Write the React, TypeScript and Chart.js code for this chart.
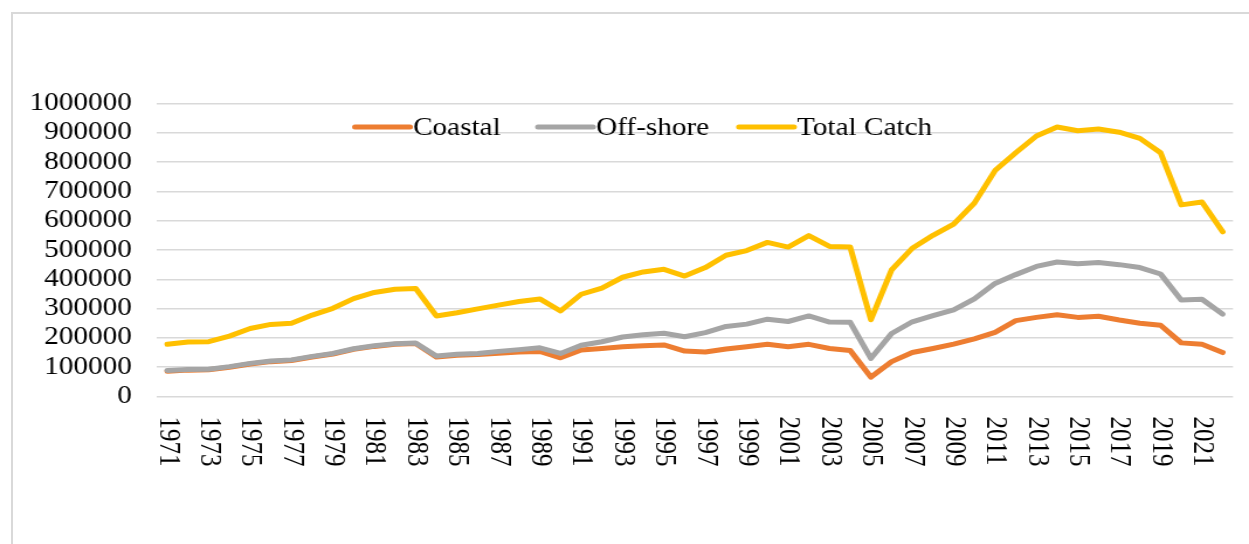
import React, { useEffect, useRef } from "react";
import { Chart, registerables } from "chart.js";

Chart.register(...registerables);

const years: string[] = [
  "1971","1972","1973","1974","1975","1976","1977","1978","1979","1980",
  "1981","1982","1983","1984","1985","1986","1987","1988","1989","1990",
  "1991","1992","1993","1994","1995","1996","1997","1998","1999","2000",
  "2001","2002","2003","2004","2005","2006","2007","2008","2009","2010",
  "2011","2012","2013","2014","2015","2016","2017","2018","2019","2020",
  "2021","2022",
];

const coastal: number[] = [
  86000, 90000, 91000, 100000, 111000, 119000, 123000, 135000, 145000, 161000,
  171000, 178000, 181000, 135000, 141000, 143000, 148000, 152000, 154000, 132000,
  159000, 164000, 170000, 173000, 176000, 155000, 152000, 162000, 170000, 178000,
  170000, 178000, 164000, 157000, 66000, 119000, 150000, 164000, 179000, 197000,
  219000, 259000, 270000, 279000, 270000, 274000, 261000, 250000, 243000, 183000,
  178000, 150000,
];

const offshore: number[] = [
  89000, 92000, 93000, 102000, 113000, 121000, 125000, 137000, 147000, 163000,
  173000, 180000, 183000, 138000, 144000, 147000, 154000, 160000, 166000, 147000,
  175000, 187000, 203000, 211000, 216000, 204000, 218000, 239000, 247000, 264000,
  256000, 275000, 254000, 253000, 130000, 215000, 255000, 276000, 296000, 333000,
  386000, 416000, 444000, 459000, 453000, 457000, 450000, 440000, 418000, 329000,
  332000, 281000,
];

const totalCatch: number[] = [
  178000, 186000, 187000, 206000, 232000, 246000, 250000, 278000, 301000, 334000,
  355000, 366000, 369000, 275000, 286000, 299000, 312000, 324000, 333000, 292000,
  349000, 370000, 407000, 425000, 434000, 411000, 440000, 482000, 498000, 526000,
  510000, 549000, 512000, 510000, 262000, 432000, 506000, 550000, 588000, 660000,
  771000, 832000, 889000, 920000, 907000, 913000, 902000, 881000, 832000, 654000,
  664000, 562000,
];

const seriesNames: string[] = ["Coastal", "Off-shore", "Total Catch"];
const seriesColors: string[] = ["#ED7D31", "#A5A5A5", "#FFC000"];

const W = 1249;
const H = 544;
const CW = 1068; // canvas drawn narrower, then stretched horizontally
const SX = W / CW;
const FAMILY = '"Liberation Serif", "Times New Roman", serif';
const FONT = `25px ${FAMILY}`;

export default function App() {
  const ref = useRef<HTMLCanvasElement | null>(null);

  useEffect(() => {
    if (!ref.current) return;

    const xLabels = {
      id: "xLabelsRot",
      afterDraw(chart: any) {
        const ctx = chart.ctx;
        const xs = chart.scales.x;
        const bottom = chart.chartArea.bottom;
        ctx.save();
        ctx.font = FONT;
        ctx.fillStyle = "#000";
        ctx.textAlign = "left";
        ctx.textBaseline = "middle";
        years.forEach((y, i) => {
          if (i % 2 !== 0) return;
          const px = xs.getPixelForValue(i);
          ctx.save();
          ctx.translate(px, bottom + 20);
          ctx.rotate(Math.PI / 2);
          ctx.fillText(y, 0, 0);
          ctx.restore();
        });
        ctx.restore();
      },
    };

    const legendStarts = [355, 538, 739];
    const legend = {
      id: "customLegend",
      afterDraw(chart: any) {
        const ctx = chart.ctx;
        ctx.save();
        ctx.font = FONT;
        ctx.textAlign = "left";
        ctx.textBaseline = "middle";
        const y = 127;
        const lineLen = 55 / SX;
        const gap = 3 / SX;
        seriesNames.forEach((name, i) => {
          const x = legendStarts[i] / SX;
          ctx.strokeStyle = seriesColors[i];
          ctx.lineWidth = 5;
          ctx.lineCap = "round";
          ctx.beginPath();
          ctx.moveTo(x, y);
          ctx.lineTo(x + lineLen, y);
          ctx.stroke();
          ctx.fillStyle = "#000";
          ctx.fillText(name, x + lineLen + gap, y + 1);
        });
        ctx.restore();
      },
    };

    const dataSeries = [coastal, offshore, totalCatch];
    const chart = new Chart(ref.current, {
      type: "line",
      data: {
        labels: years,
        datasets: dataSeries.map((d, i) => ({
          label: seriesNames[i],
          data: d,
          borderColor: seriesColors[i],
          backgroundColor: seriesColors[i],
          borderWidth: 5,
          pointRadius: 0,
          tension: 0,
          borderJoinStyle: "round" as const,
          borderCapStyle: "round" as const,
          order: 3 - i,
        })),
      },
      options: {
        animation: false,
        responsive: false,
        maintainAspectRatio: false,
        layout: {
          padding: { left: 0, right: CW - 1233 / SX, top: 103.5, bottom: 0 },
        },
        plugins: {
          legend: { display: false },
          tooltip: { enabled: false },
        },
        scales: {
          x: {
            offset: true,
            grid: { display: false, drawTicks: false },
            border: { display: false },
            ticks: { display: false },
            afterFit: (s: any) => {
              s.height = H - 396.5;
            },
          },
          y: {
            min: 0,
            max: 1000000,
            grid: { color: "#D9D9D9", lineWidth: 1.5, drawTicks: false },
            border: { display: false },
            ticks: {
              stepSize: 100000,
              autoSkip: false,
              padding: 25 / SX,
              color: "#000",
              font: { family: FAMILY, size: 25 },
              callback: (v: any) => String(v),
            },
            afterFit: (s: any) => {
              s.width = 157 / SX;
            },
          },
        },
      },
      plugins: [xLabels, legend],
    });
    return () => chart.destroy();
  }, []);

  return (
    <div
      style={{
        position: "fixed",
        left: 0,
        top: 0,
        width: W,
        height: H,
        overflow: "hidden",
        background: "#fff",
      }}
    >
      <div
        style={{
          position: "absolute",
          left: 11,
          top: 12,
          width: 1400,
          height: 700,
          borderTop: "2px solid #D9D9D9",
          borderLeft: "2px solid #D9D9D9",
        }}
      />
      <canvas
        ref={ref}
        width={CW}
        height={H}
        style={{
          position: "absolute",
          left: 0,
          top: 0,
          width: CW,
          height: H,
          transform: `scaleX(${SX})`,
          transformOrigin: "0 0",
        }}
      />
    </div>
  );
}
